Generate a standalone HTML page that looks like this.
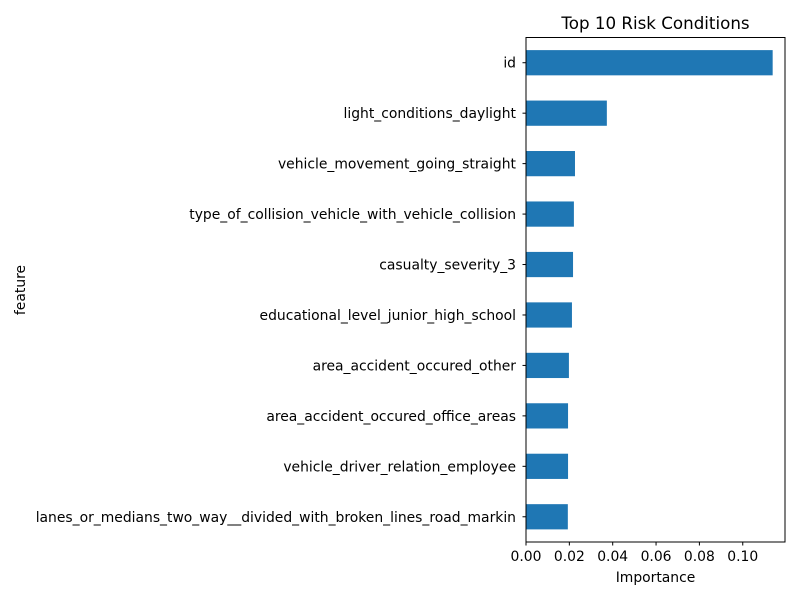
<!DOCTYPE html>
<html><head><meta charset="utf-8"><style>
body{margin:0;background:#fff;}
svg{display:block;font-family:"DejaVu Sans","Liberation Sans",sans-serif;}
</style></head><body>
<svg id="chart" width="800" height="600">
<text x="655.5" y="29" text-anchor="middle" font-size="16.7">Top 10 Risk Conditions</text>
<text x="655.5" y="582" text-anchor="middle" font-size="13.9">Importance</text>
<text x="25" y="290" text-anchor="middle" font-size="13.9" transform="rotate(-90 25 290)">feature</text>
<g id="bars"></g>
<g id="xticks"></g>
<g id="yticks"></g>
<rect x="526" y="37.5" width="259" height="504.5" fill="none" stroke="#000" stroke-width="1"/>
</svg>
<script>
const categories = ["id","light_conditions_daylight","vehicle_movement_going_straight","type_of_collision_vehicle_with_vehicle_collision","casualty_severity_3","educational_level_junior_high_school","area_accident_occured_other","area_accident_occured_office_areas","vehicle_driver_relation_employee","lanes_or_medians_two_way__divided_with_broken_lines_road_markin"];
const importance = [0.1138,0.0373,0.0226,0.0221,0.0217,0.0212,0.0198,0.0194,0.0194,0.0193];
const xTickValues = [0,0.02,0.04,0.06,0.08,0.10];
const xTickLabels = ["0.00","0.02","0.04","0.06","0.08","0.10"];

const NS="http://www.w3.org/2000/svg";
const L=526,R=785,T=37.5,B=542;
const xmax=Math.max(...importance)*1.05;
const x=v=>L+(v/xmax)*(R-L);
const step=(B-T)/categories.length;
const y=i=>T+step*(i+0.5);
function mk(tag,attrs,parent){const e=document.createElementNS(NS,tag);for(const k in attrs)e.setAttribute(k,attrs[k]);parent.appendChild(e);return e;}
const bars=document.getElementById('bars'),xt=document.getElementById('xticks'),yt=document.getElementById('yticks');
categories.forEach((c,i)=>{
  const r=mk('rect',{x:L,y:y(i)-step*0.25,width:x(importance[i])-L,height:step*0.5,fill:'#1f77b4'},bars);
  
  
  const tk=mk('line',{x1:L-3.5,x2:L,y1:y(i),y2:y(i),stroke:'#000'},yt);
  
  
  const t=mk('text',{x:L-10,y:y(i)+5,'text-anchor':'end','font-size':13.9},yt);
  t.textContent=c;
  
  
});
xTickValues.forEach((v,i)=>{
  const tk=mk('line',{x1:x(v),x2:x(v),y1:B,y2:B+3.5,stroke:'#000'},xt);
  
  
  const t=mk('text',{x:x(v),y:B+19,'text-anchor':'middle','font-size':13.9},xt);
  t.textContent=xTickLabels[i];
  
  
});
</script>
</body></html>
